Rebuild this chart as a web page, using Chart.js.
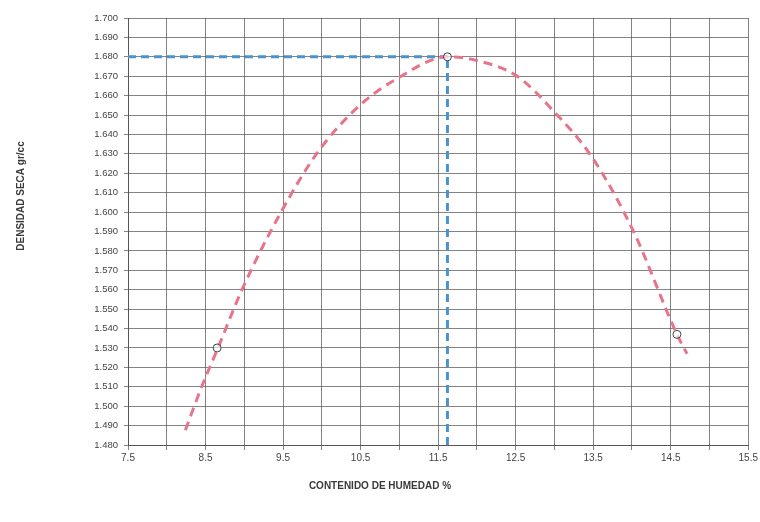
<!DOCTYPE html>
<html>
<head>
<meta charset="utf-8">
<script src="https://cdn.jsdelivr.net/npm/chart.js@4/dist/chart.umd.min.js"></script>
<style>
  html, body { margin: 0; padding: 0; background: #ffffff; }
  #wrap { width: 760px; height: 522px; position: relative; }
</style>
</head>
<body>
<div id="wrap"><canvas id="c" width="760" height="522"></canvas></div>
<script>
// Measured points (moisture %, dry density g/cc)
const moisture = [8.65, 11.62, 14.58];
const density = [1.530, 1.680, 1.537];

// Compaction curve
const curveX = [8.24, 8.45, 8.65, 8.97, 9.46, 9.95, 10.49, 10.98, 11.62, 12.01, 12.52, 12.99, 13.49, 14.02, 14.58, 14.71];
const curveY = [1.4876, 1.510, 1.529, 1.560, 1.599, 1.631, 1.655, 1.669, 1.680, 1.678, 1.670, 1.652, 1.628, 1.590, 1.537, 1.527];

// Optimum guide lines
const optMoisture = 11.62;
const maxDensity = 1.680;

// Axis settings
const xMin = 7.5, xMax = 15.5, xStep = 0.5;
const yMin = 1.48, yMax = 1.70, yStep = 0.01;

const xTitle = 'CONTENIDO DE HUMEDAD %';
const yTitle = 'DENSIDAD SECA gr/cc';

const curveData = curveX.map((x, i) => ({ x: x, y: curveY[i] }));
const pointData = moisture.map((x, i) => ({ x: x, y: density[i] }));
const hLine = [{ x: xMin, y: maxDensity }, { x: optMoisture, y: maxDensity }];
const vLine = [{ x: optMoisture, y: yMin }, { x: optMoisture, y: maxDensity }];

const titlePlugin = {
  id: 'axisTitles',
  afterDraw(chart) {
    const ctx = chart.ctx;
    ctx.save();
    ctx.fillStyle = '#3a3a3a';
    ctx.font = 'bold 10px "Liberation Sans", Arial, sans-serif';
    ctx.textAlign = 'center';
    ctx.textBaseline = 'middle';
    ctx.fillText(xTitle, 380, 486);
    ctx.translate(21, 196);
    ctx.rotate(-Math.PI / 2);
    ctx.fillText(yTitle, 0, 0);
    ctx.restore();
  }
};

new Chart(document.getElementById('c'), {
  type: 'scatter',
  data: {
    datasets: [
      {
        label: 'guide-h',
        data: hLine,
        showLine: true,
        borderColor: '#4a93cc',
        borderWidth: 3,
        borderDash: [8, 5],
        pointRadius: 0,
        order: 3
      },
      {
        label: 'guide-v',
        data: vLine,
        showLine: true,
        borderColor: '#4a93cc',
        borderWidth: 3,
        borderDash: [8, 5],
        pointRadius: 0,
        order: 3
      },
      {
        label: 'curve',
        data: curveData,
        showLine: true,
        borderColor: '#e8748b',
        borderWidth: 3,
        borderDash: [9, 6],
        tension: 0.4,
        cubicInterpolationMode: 'monotone',
        pointRadius: 0,
        order: 2
      },
      {
        label: 'points',
        data: pointData,
        showLine: false,
        pointRadius: 4,
        pointBackgroundColor: 'rgba(255,255,255,0.6)',
        pointBorderColor: '#444444',
        pointBorderWidth: 1,
        order: 1
      }
    ]
  },
  options: {
    responsive: false,
    animation: false,
    layout: { padding: { left: 0, right: 5, top: 18, bottom: 0 } },
    plugins: {
      legend: { display: false },
      tooltip: { enabled: false },
      title: { display: false }
    },
    scales: {
      x: {
        type: 'linear',
        min: xMin,
        max: xMax,
        ticks: {
          stepSize: xStep,
          autoSkip: false,
          maxRotation: 0,
          color: '#444444',
          font: { size: 10, family: '"Liberation Sans", Arial, sans-serif' },
          padding: 2,
          callback: function (v) {
            const k = (v - xMin) / 1;
            return Math.abs(k - Math.round(k)) < 1e-6 ? v.toFixed(1) : '';
          }
        },
        grid: { color: 'rgba(80,80,80,0.7)', lineWidth: 1, tickLength: 5 },
        border: { color: '#555555', width: 1 },
        afterFit: function (axis) { axis.height = 77; }
      },
      y: {
        type: 'linear',
        min: yMin,
        max: yMax,
        ticks: {
          stepSize: yStep,
          autoSkip: false,
          color: '#444444',
          font: { size: 9.5, family: '"Liberation Sans", Arial, sans-serif' },
          padding: 6,
          callback: function (v) { return v.toFixed(3); }
        },
        grid: { color: 'rgba(80,80,80,0.7)', lineWidth: 1, tickLength: 4 },
        border: { color: '#555555', width: 1 },
        afterFit: function (axis) { axis.width = 128; }
      }
    }
  },
  plugins: [titlePlugin]
});
</script>
</body>
</html>
